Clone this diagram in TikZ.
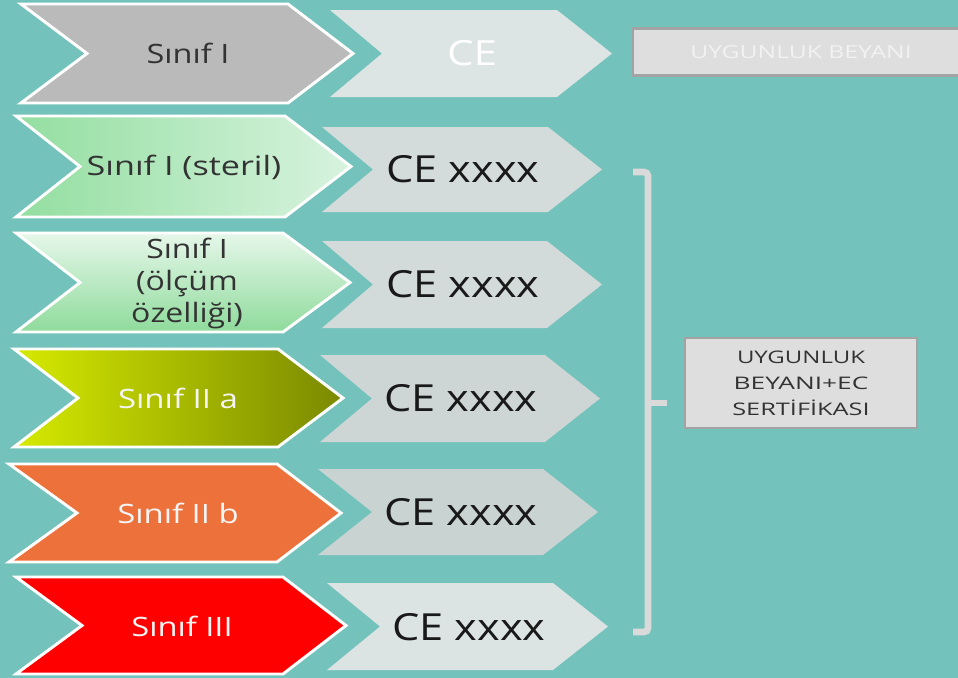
\documentclass[tikz,border=0pt]{standalone}
\usepackage{fontspec}
\setmainfont{Open Sans}
\usepackage{graphicx}
\definecolor{bg}{HTML}{74C2BC}
\definecolor{gr1}{HTML}{BABABA}
\definecolor{grA}{HTML}{93DEA0}
\definecolor{grB}{HTML}{D8F3DF}
\definecolor{grC}{HTML}{E6F7EA}
\definecolor{grD}{HTML}{8FDB9C}
\definecolor{ylA}{HTML}{D6EA00}
\definecolor{ylB}{HTML}{7A8900}
\definecolor{org}{HTML}{ED713A}
\definecolor{redd}{HTML}{FF0000}
\definecolor{ce1}{HTML}{DDE4E4}
\definecolor{ce2}{HTML}{D4DCDB}
\definecolor{ce3}{HTML}{D3DBDA}
\definecolor{ce4}{HTML}{CDD6D5}
\definecolor{ce5}{HTML}{C9D3D2}
\definecolor{ce6}{HTML}{DCE3E3}
\definecolor{darktxt}{HTML}{333333}
\definecolor{boxfill}{HTML}{DEDEDE}
\definecolor{boxline}{HTML}{A3A3A3}
\definecolor{brk}{HTML}{DADADA}
\newcommand{\chev}[7]{\path[#7] (#1,#4) -- (#2,#4) -- (#3,{(#4+#5)/2}) -- (#2,#5) -- (#1,#5) -- (#6,{(#4+#5)/2}) -- cycle;}
\newcommand{\wfit}[2]{\resizebox{#1}{\height}{#2}}
\tikzset{
  sinbox/.style={draw=white, line width=2.2pt, line join=miter},
  sintext/.style={font=\fontsize{20pt}{24pt}\selectfont, inner sep=0pt, align=center},
  cetext/.style={font=\fontsize{28pt}{32pt}\selectfont, inner sep=0pt, text=black!90},
  decbox/.style={draw=boxline, line width=1.8pt, fill=boxfill, inner sep=0pt},
  bracketline/.style={draw=brk, line width=5pt, rounded corners=3pt}
}
\begin{document}
\begin{tikzpicture}[x=0.75pt,y=-0.75pt]
\useasboundingbox (0,0) rectangle (958,678);
\fill[bg] (0,0) rectangle (958,678);

% left chevrons
\chev{21}{288}{353}{4}{103}{87}{sinbox, fill=gr1}
\chev{16}{285}{351}{116}{217}{80}{sinbox, left color=grA, right color=grB}
\chev{16}{283}{350}{233}{332}{80}{sinbox, top color=grC, bottom color=grD}
\chev{14}{278}{343}{349}{447}{78}{sinbox, left color=ylA, right color=ylB}
\chev{9}{277}{341}{464}{562}{77}{sinbox, fill=org}
\chev{16}{283}{346}{577}{674}{82}{sinbox, fill=redd}

% CE chevrons
\chev{330}{557}{612}{10}{97}{382}{fill=ce1}
\chev{322}{548}{602}{127}{212}{373}{fill=ce2}
\chev{322}{547}{602}{241}{328}{373}{fill=ce3}
\chev{320}{545}{600}{355}{442}{372}{fill=ce4}
\chev{318}{543}{598}{469}{555}{372}{fill=ce5}
\chev{327}{553}{608}{583}{670}{380}{fill=ce6}

% left texts
\node[sintext, text=darktxt] (s1) at (188,53) {\wfit{62pt}{Sınıf I}};
\node[sintext, text=darktxt] (s2) at (184,167) {\wfit{146pt}{Sınıf I (steril)}};
\node[sintext, text=darktxt] (s3) at (187,283) {\scalebox{1.2}[1]{Sınıf I}\\\scalebox{1.2}[1]{(ölçüm}\\\scalebox{1.2}[1]{özelliği)}};
\node[sintext, text=white!96!black] (s4) at (178,398) {\wfit{90pt}{Sınıf II a}};
\node[sintext, text=white!96!black] (s5) at (178,513) {\wfit{91pt}{Sınıf II b}};
\node[sintext, text=white!96!black] (s6) at (182,626) {\wfit{76pt}{Sınıf III}};

% CE texts
\node[inner sep=0pt, font=\fontsize{26pt}{30pt}\selectfont, text=white] (c1) at (472,53) {\wfit{37.5pt}{CE}};
\node[cetext] (c2) at (463,169) {\wfit{115pt}{CE xxxx}};
\node[cetext] (c3) at (463,284) {\wfit{115pt}{CE xxxx}};
\node[cetext] (c4) at (461,398) {\wfit{115pt}{CE xxxx}};
\node[cetext] (c5) at (461,512) {\wfit{115pt}{CE xxxx}};
\node[cetext] (c6) at (469,627) {\wfit{115pt}{CE xxxx}};

% boxes
\node[decbox, minimum width=252pt, minimum height=35pt, text=white!95!black,
      font=\fontsize{13.5pt}{16pt}\selectfont] (b1) at (801,52) {\wfit{166pt}{UYGUNLUK BEYANI}};
\node[decbox, minimum width=174pt, minimum height=67.5pt, text=darktxt, align=center,
      font=\fontsize{13pt}{19.5pt}\selectfont] (b2) at (801,383)
      {\wfit{96pt}{UYGUNLUK}\\\wfit{101pt}{BEYANI+EC}\\\wfit{103pt}{SERTİFİKASI}};

% bracket
\coordinate (bt) at (633,172);
\coordinate (bb) at (633,632);
\coordinate (bm) at (648,403);
\coordinate (btick) at (667,403);
\draw[bracketline] (bt) -- (648,172) -- (648,632) -- (bb);
\draw[draw=brk, line width=5pt] (bm) -- (btick);
\end{tikzpicture}
\end{document}
